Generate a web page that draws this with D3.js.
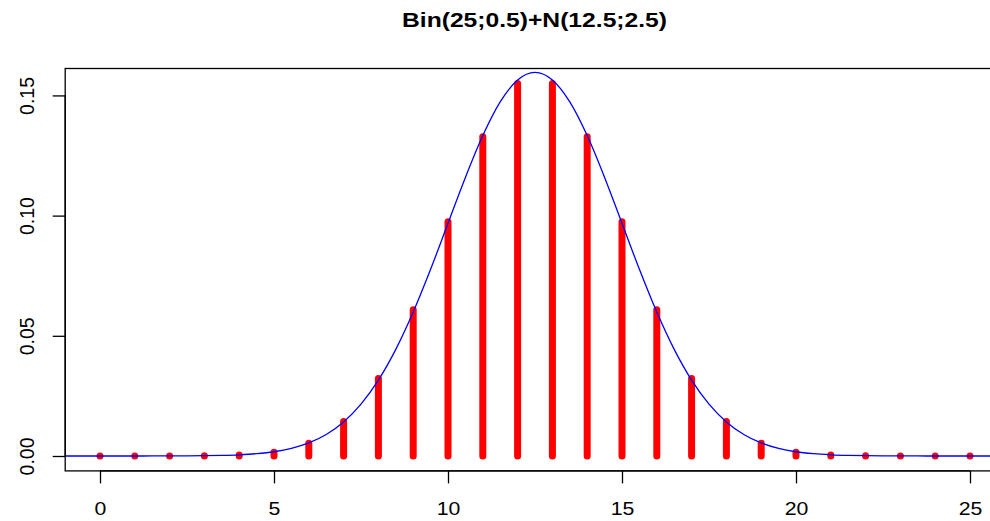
<!DOCTYPE html>
<html>
<head>
<meta charset="utf-8">
<script src="https://cdn.jsdelivr.net/npm/d3@7"></script>
<style>
  html, body { margin: 0; padding: 0; background: #fff; }
  svg { display: block; }
  text { font-family: "Liberation Sans", Arial, sans-serif; }
</style>
</head>
<body>
<svg id="chart" width="990" height="521"></svg>
<script>
// Binomial(25, 0.5) probabilities, k = 0..25
const binomK = [0,1,2,3,4,5,6,7,8,9,10,11,12,13,14,15,16,17,18,19,20,21,22,23,24,25];
const binomP = [0.00000003,0.00000075,0.0000089,0.0000685,0.000377,0.001583,0.005278,0.014326,
  0.032233,0.060885,0.097417,0.132841,0.154981,0.154981,0.132841,0.097417,0.060885,0.032233,
  0.014326,0.005278,0.001583,0.000377,0.0000685,0.0000089,0.00000075,0.00000003];

// Normal(12.5, 2.5) density read at half-unit steps from -1 to 26
const curveX = [-1,-0.5,0,0.5,1,1.5,2,2.5,3,3.5,4,4.5,5,5.5,6,6.5,7,7.5,8,8.5,9,9.5,10,10.5,11,11.5,12,12.5,
  13,13.5,14,14.5,15,15.5,16,16.5,17,17.5,18,18.5,19,19.5,20,20.5,21,21.5,22,22.5,23,23.5,24,24.5,25,25.5,26];
const curveY = [0.00000007,0.0000002,0.0000006,0.0000016,0.0000041,0.00001,0.0000236,0.0000535,0.000117,0.000245,
  0.000493,0.000954,0.001773,0.003166,0.00543,0.00896,0.01419,0.0216,0.03158,0.04437,0.05989,0.07768,0.09679,
  0.11588,0.13329,0.14731,0.15642,0.15958,
  0.15642,0.14731,0.13329,0.11588,0.09679,0.07768,0.05989,0.04437,0.03158,0.0216,0.01419,0.00896,0.00543,
  0.003166,0.001773,0.000954,0.000493,0.000245,0.000117,0.0000535,0.0000236,0.00001,0.0000041,0.0000016,
  0.0000006,0.0000002,0.00000007];

const xTicks = [0,5,10,15,20,25];
const yTicks = [0.00,0.05,0.10,0.15];
const title = "Bin(25;0.5)+N(12.5;2.5)";

const svg = d3.select("#chart");
const L = 65.2, R = 1004.8, T = 68.5, B = 470.9;
const x = d3.scaleLinear().domain([-1, 26]).range([L, R]);
const y = d3.scaleLinear().domain([-0.0062, 0.1612]).range([B, T]);

svg.append("defs").append("clipPath").attr("id", "clip")
  .append("rect").attr("x", L).attr("y", T).attr("width", R - L).attr("height", B - T);

const plot = svg.append("g").attr("clip-path", "url(#clip)");

// bars
plot.selectAll("line.bar").data(binomK).enter().append("line")
  .attr("class", "bar")
  .attr("x1", (d) => x(d)).attr("x2", (d) => x(d))
  .attr("y1", y(0)).attr("y2", (d, i) => y(binomP[i]))
  .attr("stroke", "#ff0000").attr("stroke-width", 7).attr("stroke-linecap", "round");

// normal curve
const pts = curveX.map((v, i) => [v, curveY[i]]);
plot.append("path").datum(pts)
  .attr("fill", "none").attr("stroke", "#0000ff").attr("stroke-width", 1.3)
  .attr("d", d3.line().x((d) => x(d[0])).y((d) => y(d[1])).curve(d3.curveMonotoneX));

// box
svg.append("rect").attr("x", L).attr("y", T).attr("width", R - L).attr("height", B - T)
  .attr("fill", "none").attr("stroke", "#000").attr("stroke-width", 1.3);

// x axis
const xAxis = d3.axisBottom(x).tickValues(xTicks).tickFormat(d3.format("d")).tickSize(12.5);
const gx = svg.append("g").attr("transform", `translate(0,${B})`).call(xAxis);
gx.select(".domain").attr("d", `M${x(0)},0H${x(25)}`).attr("stroke-width", 1.3);
gx.selectAll(".tick line").attr("stroke-width", 1.3);
gx.selectAll("text").attr("font-size", 19).attr("fill", "#000")
  .attr("font-family", "'Liberation Sans', Arial, sans-serif")
  .attr("y", 44).attr("dy", null)
  .attr("transform", "scale(1.12,1)");

// y axis
const yAxis = d3.axisLeft(y).tickValues(yTicks).tickFormat(d3.format(".2f")).tickSize(12.5);
const gy = svg.append("g").attr("transform", `translate(${L},0)`).call(yAxis);
gy.select(".domain").attr("d", `M0,${y(0)}V${y(0.15)}`).attr("stroke-width", 1.3);
gy.selectAll(".tick line").attr("stroke-width", 1.3);
gy.selectAll("text")
  .attr("font-size", 19.5).attr("fill", "#000")
  .attr("font-family", "'Liberation Sans', Arial, sans-serif")
  .attr("text-anchor", "middle").attr("dy", null).attr("x", null).attr("y", null)
  .attr("transform", "translate(-31,0) rotate(-90)");

// title
svg.append("text").attr("x", 534.5).attr("y", 27)
  .attr("text-anchor", "middle").attr("font-size", 20).attr("font-weight", "bold")
  .attr("textLength", 265).attr("lengthAdjust", "spacingAndGlyphs")
  .text(title);
</script>
</body>
</html>
